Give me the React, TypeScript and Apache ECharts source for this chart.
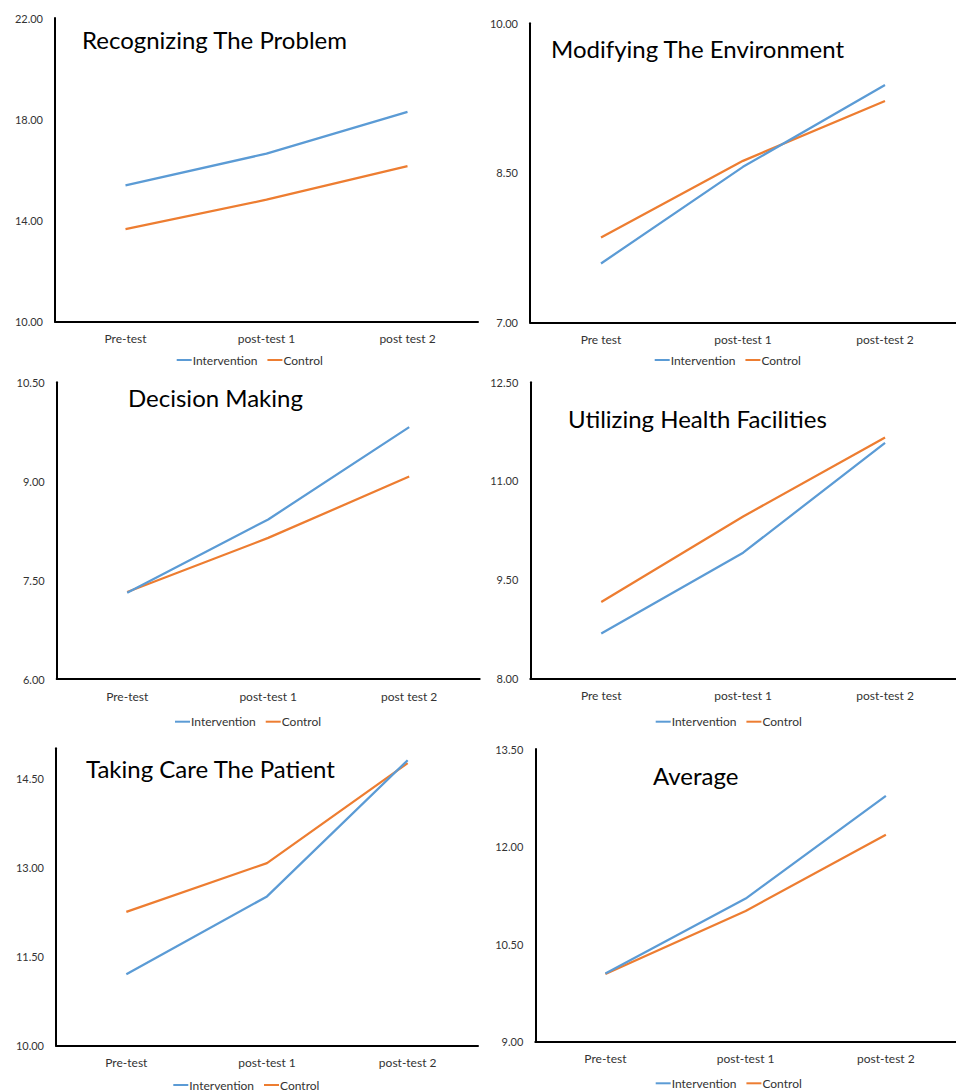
import React, { useEffect, useRef } from 'react';
import * as echarts from 'echarts';

const seriesNames = ['Intervention', 'Control'];

const titles = [
  'Recognizing The Problem',
  'Modifying The Environment',
  'Decision Making',
  'Utilizing Health Facilities',
  'Taking Care The Patient',
  'Average',
];

const catsRecognizing = ['Pre-test', 'post-test 1', 'post test 2'];
const catsModifying = ['Pre test', 'post-test 1', 'post-test 2'];
const catsDecision = ['Pre-test', 'post-test 1', 'post test 2'];
const catsUtilizing = ['Pre test', 'post-test 1', 'post-test 2'];
const catsTaking = ['Pre-test', 'post-test 1', 'post-test 2'];
const catsAverage = ['Pre-test', 'post-test 1', 'post-test 2'];

const recognizingIntervention = [15.39, 16.64, 18.29];
const recognizingControl = [13.66, 14.82, 16.15];
const modifyingIntervention = [7.59, 8.56, 9.38];
const modifyingControl = [7.85, 8.62, 9.22];
const decisionIntervention = [7.31, 8.42, 9.82];
const decisionControl = [7.32, 8.14, 9.07];
const utilizingIntervention = [8.68, 9.91, 11.58];
const utilizingControl = [9.16, 10.46, 11.66];
const takingIntervention = [11.2, 12.51, 14.8];
const takingControl = [12.25, 13.07, 14.75];
const averageIntervention = [10.05, 11.2, 12.78];
const averageControl = [10.04, 11.01, 12.18];

const yMins = [10, 7, 6, 8, 10, 9];
const yMaxs = [22, 10, 10.5, 12.5, 15, 13.5];
const yIntervals = [4, 1.5, 1.5, 1.5, 1.5, 1.5];

const categories = [catsRecognizing, catsModifying, catsDecision, catsUtilizing, catsTaking, catsAverage];
const interventions = [
  recognizingIntervention,
  modifyingIntervention,
  decisionIntervention,
  utilizingIntervention,
  takingIntervention,
  averageIntervention,
];
const controls = [
  recognizingControl,
  modifyingControl,
  decisionControl,
  utilizingControl,
  takingControl,
  averageControl,
];

// layout (pixels)
const gridBoxes = [
  { left: 55, top: 18, width: 423, height: 303.7 },
  { left: 530, top: 23.3, width: 429, height: 299 },
  { left: 56.7, top: 382.3, width: 423, height: 296.7 },
  { left: 530.3, top: 382.3, width: 430, height: 296 },
  { left: 56, top: 748.3, width: 422, height: 297.4 },
  { left: 535.3, top: 749, width: 434, height: 292.7 },
];
const titlePos = [
  { left: 82, top: 27 },
  { left: 551, top: 36 },
  { left: 128, top: 385 },
  { left: 568, top: 406 },
  { left: 86, top: 756 },
  { left: 653, top: 763 },
];
const legendPos = [
  { left: 176.7, top: 354 },
  { left: 654.7, top: 354 },
  { left: 175, top: 715.7 },
  { left: 655.7, top: 715.7 },
  { left: 173.3, top: 1079 },
  { left: 655.7, top: 1077.3 },
];

const BLUE = '#5B9BD5';
const ORANGE = '#ED7D31';
const FONT = 'Lato';

export default function App() {
  const ref = useRef<HTMLDivElement>(null);

  useEffect(() => {
    document.body.style.margin = '0';
    if (!ref.current) return;
    const chart = echarts.init(ref.current, undefined, { renderer: 'svg' });

    const option: any = {
      animation: false,
      backgroundColor: '#ffffff',
      title: titles.map((t, i) => ({
        text: t,
        left: titlePos[i].left,
        top: titlePos[i].top,
        padding: 0,
        textStyle: { fontFamily: FONT, fontSize: 24, fontWeight: 'normal', color: '#000000' },
      })),
      legend: legendPos.map((p) => ({
        data: seriesNames,
        left: p.left,
        top: p.top,
        padding: 0,
        itemGap: 10,
        itemWidth: 15,
        itemHeight: 2,
        icon: 'rect',
        selectedMode: false,
        textStyle: { fontFamily: FONT, fontSize: 12, color: '#333333', padding: [0, 0, 0, -4] },
      })),
      grid: gridBoxes.map((g) => ({ ...g, containLabel: false })),
      xAxis: categories.map((c, i) => ({
        type: 'category',
        gridIndex: i,
        data: c,
        boundaryGap: true,
        axisLine: { lineStyle: { color: '#000000', width: 2 } },
        axisTick: { show: false },
        axisLabel: { fontFamily: FONT, fontSize: 12, color: '#333333', margin: 11 },
        splitLine: { show: false },
      })),
      yAxis: yMins.map((mn, i) => ({
        type: 'value',
        gridIndex: i,
        min: mn,
        max: yMaxs[i],
        interval: yIntervals[i],
        axisLine: { show: true, lineStyle: { color: '#000000', width: 2 } },
        axisTick: { show: false },
        splitLine: { show: false },
        axisLabel: {
          fontFamily: FONT,
          fontSize: 11,
          color: '#333333',
          margin: 12,
          showMaxLabel: i === 4 ? false : true,
          formatter: (v: number) => v.toFixed(2),
        },
      })),
      series: interventions.flatMap((iv, i) => [
        {
          name: seriesNames[0],
          type: 'line',
          xAxisIndex: i,
          yAxisIndex: i,
          data: iv,
          symbol: 'none',
          lineStyle: { color: BLUE, width: 2.25 },
          itemStyle: { color: BLUE },
          z: 3,
        },
        {
          name: seriesNames[1],
          type: 'line',
          xAxisIndex: i,
          yAxisIndex: i,
          data: controls[i],
          symbol: 'none',
          lineStyle: { color: ORANGE, width: 2.25 },
          itemStyle: { color: ORANGE },
          z: 2,
        },
      ]),
    };

    chart.setOption(option);
    return () => {
      chart.dispose();
    };
  }, []);

  return <div ref={ref} style={{ width: 956, height: 1091 }} />;
}
